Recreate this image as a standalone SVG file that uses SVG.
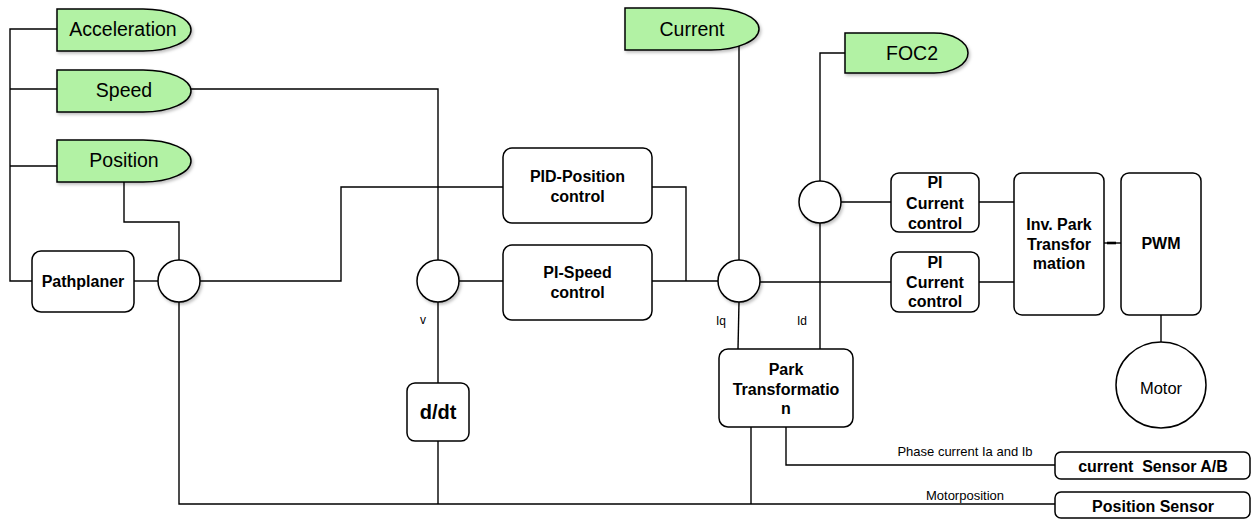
<svg xmlns="http://www.w3.org/2000/svg" width="1251" height="519" viewBox="0 0 1251 519">
  <defs>
    <filter id="shadow" x="-20%" y="-20%" width="150%" height="160%">
      <feDropShadow dx="1.5" dy="2" stdDeviation="1.5" flood-color="#000" flood-opacity="0.25"/>
    </filter>
    <style>
      .wire { fill: none; stroke: #000; stroke-width: 1.4; }
      .box { fill: #fff; stroke: #000; stroke-width: 1.5; }
      .sum { fill: #fff; stroke: #000; stroke-width: 1.5; filter: url(#shadow); }
      .term { fill: #b2f2a4; stroke: #000; stroke-width: 1.5; filter: url(#shadow); }
      .tt { font-family: "Liberation Sans", Arial, sans-serif; font-size: 19.5px; fill: #000; text-anchor: middle; }
      .bt { font-family: "Liberation Sans", Arial, sans-serif; font-size: 16px; font-weight: bold; fill: #000; text-anchor: middle; }
      .lt { font-family: "Liberation Sans", Arial, sans-serif; font-size: 13px; fill: #000; text-anchor: middle; }
      .st { font-family: "Liberation Sans", Arial, sans-serif; font-size: 12px; fill: #000; text-anchor: middle; }
    </style>
  </defs>
  <rect width="1251" height="519" fill="#fff"/>

  <!-- connectors -->
  <g id="connectors">
    <path class="wire" d="M57,29 H10 V281 H32"/>
    <path class="wire" d="M10,89 H57"/>
    <path class="wire" d="M10,166 H57"/>
    <path class="wire" d="M180,89 H438 V260"/>
    <path class="wire" d="M124,175 V222 H179 V260"/>
    <path class="wire" d="M134,281 H158"/>
    <path class="wire" d="M200,281 H341 V187 H503"/>
    <path class="wire" d="M179,302 V504 H1055"/>
    <path class="wire" d="M459,281 H503"/>
    <path class="wire" d="M438,302 V383"/>
    <path class="wire" d="M438,441 V504"/>
    <path class="wire" d="M652,187 H686 V281"/>
    <path class="wire" d="M652,281 H718"/>
    <path class="wire" d="M739,40 V260"/>
    <path class="wire" d="M850,53 H820 V181"/>
    <path class="wire" d="M841,202 H891"/>
    <path class="wire" d="M820,223 V349"/>
    <path class="wire" d="M739,302 L738,349"/>
    <path class="wire" d="M760,282 H891"/>
    <path class="wire" d="M979,202 H1014"/>
    <path class="wire" d="M979,282 H1014"/>
    <path class="wire" d="M1104,243 H1121"/>
    <path d="M1107,243 H1116" stroke="#000" stroke-width="2.6"/>
    <path class="wire" d="M1161,315 V342"/>
    <path class="wire" d="M751,427 V504"/>
    <path class="wire" d="M786,427 V465 H1055"/>
    <text class="st" x="423" y="324">v</text>
    <text class="st" x="721" y="325">Iq</text>
    <text class="st" x="802" y="325">Id</text>
    <text class="lt" x="965" y="456">Phase current Ia and Ib</text>
    <text class="lt" x="965" y="500">Motorposition</text>
  </g>

  <!-- terminals -->
  <g id="acceleration">
    <path class="term" d="M57,9 H143 A48,21 0 0 1 143,51 H57 Z"/>
    <text class="tt" x="123" y="36">Acceleration</text>
  </g>
  <g id="speed">
    <path class="term" d="M57,70 H143 A48,21 0 0 1 143,112 H57 Z"/>
    <text class="tt" x="124" y="97">Speed</text>
  </g>
  <g id="position">
    <path class="term" d="M57,140 H143 A48,21 0 0 1 143,182 H57 Z"/>
    <text class="tt" x="124" y="167">Position</text>
  </g>
  <g id="current">
    <path class="term" d="M625,8 H711 A48,21 0 0 1 711,50 H625 Z"/>
    <text class="tt" x="692" y="36">Current</text>
  </g>
  <g id="foc2">
    <path class="term" d="M845,33 H934 A34,20 0 0 1 934,73 H845 Z"/>
    <text class="tt" x="912" y="60">FOC2</text>
  </g>

  <!-- summing junctions -->
  <g id="sum-position"><circle class="sum" cx="179" cy="281" r="21"/></g>
  <g id="sum-speed"><circle class="sum" cx="438" cy="281" r="21"/></g>
  <g id="sum-iq"><circle class="sum" cx="739" cy="281" r="21"/></g>
  <g id="sum-id"><circle class="sum" cx="820" cy="202" r="21"/></g>

  <!-- blocks -->
  <g id="pathplaner">
    <rect class="box" x="32" y="251" width="102" height="61" rx="9"/>
    <text class="bt" x="83" y="287">Pathplaner</text>
  </g>
  <g id="pid-position">
    <rect class="box" x="503" y="148" width="149" height="75" rx="9"/>
    <text class="bt" x="577.5" y="182">PID-Position</text>
    <text class="bt" x="577.5" y="202">control</text>
  </g>
  <g id="pi-speed">
    <rect class="box" x="503" y="245" width="149" height="75" rx="9"/>
    <text class="bt" x="577.5" y="278">PI-Speed</text>
    <text class="bt" x="577.5" y="298">control</text>
  </g>
  <g id="ddt">
    <rect class="box" x="407" y="383" width="62" height="58" rx="8"/>
    <text class="bt" x="438" y="419" style="font-size:20px">d/dt</text>
  </g>
  <g id="park">
    <rect class="box" x="719" y="349" width="134" height="78" rx="9"/>
    <text class="bt" x="786" y="375">Park</text>
    <text class="bt" x="786" y="395">Transformatio</text>
    <text class="bt" x="786" y="414">n</text>
  </g>
  <g id="pi-current-d">
    <rect class="box" x="891" y="173" width="88" height="59" rx="8"/>
    <text class="bt" x="935" y="188">PI</text>
    <text class="bt" x="935" y="209">Current</text>
    <text class="bt" x="935" y="229">control</text>
  </g>
  <g id="pi-current-q">
    <rect class="box" x="891" y="252" width="88" height="60" rx="8"/>
    <text class="bt" x="935" y="268">PI</text>
    <text class="bt" x="935" y="288">Current</text>
    <text class="bt" x="935" y="307">control</text>
  </g>
  <g id="inv-park">
    <rect class="box" x="1014" y="173" width="90" height="142" rx="8"/>
    <text class="bt" x="1059" y="230">Inv. Park</text>
    <text class="bt" x="1059" y="250">Transfor</text>
    <text class="bt" x="1059" y="269">mation</text>
  </g>
  <g id="pwm">
    <rect class="box" x="1121" y="173" width="80" height="142" rx="8"/>
    <text class="bt" x="1161" y="249">PWM</text>
  </g>
  <g id="motor">
    <ellipse class="box" cx="1161" cy="385" rx="45" ry="43"/>
    <text class="tt" x="1161" y="394" style="font-size:16.5px">Motor</text>
  </g>
  <g id="current-sensor">
    <rect class="box" x="1055" y="452" width="195" height="27" rx="6"/>
    <text class="bt" x="1153" y="472" xml:space="preserve">current  Sensor A/B</text>
  </g>
  <g id="position-sensor">
    <rect class="box" x="1055" y="492" width="195" height="26" rx="6"/>
    <text class="bt" x="1153" y="512">Position Sensor</text>
  </g>
</svg>
